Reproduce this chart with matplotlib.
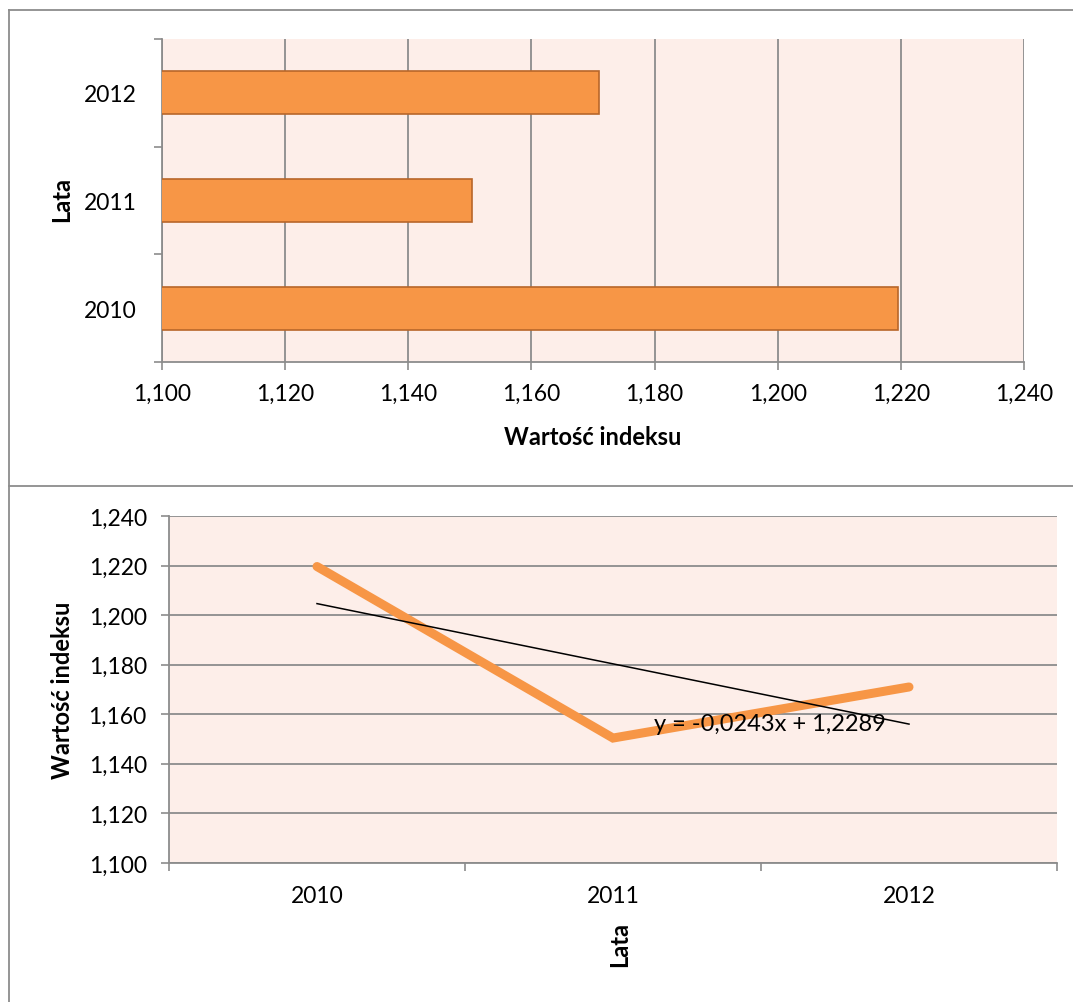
import matplotlib
matplotlib.use("Agg")
import matplotlib.pyplot as plt
import numpy as np
from matplotlib.ticker import FuncFormatter, FixedLocator
from matplotlib.lines import Line2D

plt.rcParams['font.family'] = ['Lato', 'DejaVu Sans']

# data
years = ['2010', '2011', '2012']
values = [1.2196, 1.1504, 1.1710]
x_ticks = [1.10, 1.12, 1.14, 1.16, 1.18, 1.20, 1.22, 1.24]

bg = '#fdeee9'
grid_c = '#8c8c8c'
orange = '#f79646'
edge = '#b8662a'


def comma(v, pos):
    return '{:.3f}'.format(v).replace('.', ',')


fig = plt.figure(figsize=(10.73, 10.03), dpi=100)

# outer frames
fig.add_artist(Line2D([9/1073, 9/1073], [0, 1 - 11/1003], color=grid_c, lw=1.3))
fig.add_artist(Line2D([9/1073, 1], [1 - 11/1003, 1 - 11/1003], color=grid_c, lw=1.3))
fig.add_artist(Line2D([9/1073, 1], [1 - 487/1003, 1 - 487/1003], color=grid_c, lw=1.3))

# top chart: horizontal bars
ax1 = fig.add_axes([0.151, 0.638, 0.8034, 0.322])
ax1.set_facecolor(bg)
pos = np.arange(len(years))
ax1.barh(pos, values, height=0.4, left=0, color=orange, edgecolor=edge, lw=1.2, zorder=3)
ax1.set_xlim(1.10, 1.24)
ax1.set_ylim(-0.5, 2.5)
ax1.xaxis.set_major_locator(FixedLocator(x_ticks))
ax1.xaxis.set_major_formatter(FuncFormatter(comma))
ax1.set_yticks(pos)
ax1.set_yticklabels(years)
ax1.yaxis.set_minor_locator(FixedLocator([-0.5, 0.5, 1.5, 2.5]))
ax1.grid(axis='x', color=grid_c, lw=1.3, zorder=1)
ax1.tick_params(axis='y', which='major', length=0, pad=18, labelsize=16.5)
ax1.tick_params(axis='y', which='minor', length=6, width=1.2, color=grid_c)
ax1.tick_params(axis='x', length=6, width=1.2, color=grid_c, pad=9, labelsize=16.5)
for s in ['top', 'right']:
    ax1.spines[s].set_visible(False)
for s in ['left', 'bottom']:
    ax1.spines[s].set_color(grid_c)
    ax1.spines[s].set_linewidth(1.3)

fig.text(62/1073, 1 - 200/1003, 'Lata', rotation=90, ha='center', va='center',
         fontsize=17, fontweight='bold')
fig.text(593/1073, 1 - 438/1003, 'Wartość indeksu', ha='center', va='center',
         fontsize=17, fontweight='bold')

# bottom chart: line with trend
ax2 = fig.add_axes([0.1575, 0.1386, 0.8276, 0.346])
ax2.set_facecolor(bg)
ax2.plot(pos, values, color=orange, lw=6.5, solid_capstyle='round',
         solid_joinstyle='miter', zorder=3)
slope, intercept = np.polyfit(pos + 1, values, 1)
trend = slope * (pos + 1) + intercept
ax2.plot(pos, trend, color='black', lw=1.1, zorder=4)
eq = 'y = {:.4f}x + {:.4f}'.format(slope, intercept).replace('.', ',')
ax2.text(1.53, 1.1561, eq, ha='center', va='center', fontsize=17, zorder=5)
ax2.set_xlim(-0.5, 2.5)
ax2.set_ylim(1.10, 1.24)
ax2.yaxis.set_major_locator(FixedLocator(x_ticks))
ax2.yaxis.set_major_formatter(FuncFormatter(comma))
ax2.set_xticks(pos)
ax2.set_xticklabels(years)
ax2.xaxis.set_minor_locator(FixedLocator([-0.5, 0.5, 1.5, 2.5]))
ax2.grid(axis='y', color=grid_c, lw=1.3, zorder=1)
ax2.tick_params(axis='x', which='major', length=0, pad=16, labelsize=16.5)
ax2.tick_params(axis='x', which='minor', length=6, width=1.2, color=grid_c)
ax2.tick_params(axis='y', length=6, width=1.2, color=grid_c, pad=10, labelsize=16.5)
for s in ['top', 'right']:
    ax2.spines[s].set_visible(False)
for s in ['left', 'bottom']:
    ax2.spines[s].set_color(grid_c)
    ax2.spines[s].set_linewidth(1.3)

fig.text(62/1073, 1 - 690/1003, 'Wartość indeksu', rotation=90, ha='center', va='center',
         fontsize=17, fontweight='bold')
fig.text(620/1073, 1 - 945/1003, 'Lata', rotation=90, ha='center', va='center',
         fontsize=17, fontweight='bold')

fig.savefig('out.png', dpi=100, facecolor='white')
